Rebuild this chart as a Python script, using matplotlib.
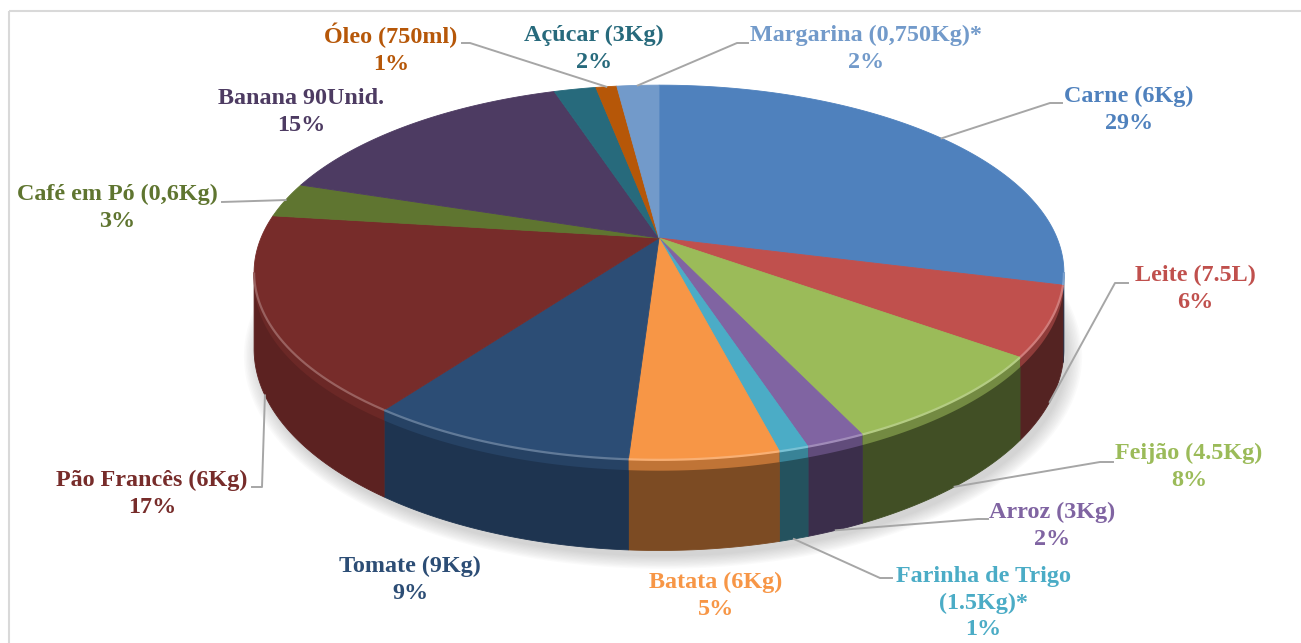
import numpy as np
import matplotlib
matplotlib.use("Agg")
import matplotlib.pyplot as plt
from matplotlib.patches import Polygon, Rectangle
from matplotlib.colors import to_rgb

# ---------------- data ----------------
categories = ["Carne (6Kg)", "Leite (7.5L)", "Feijão (4.5Kg)", "Arroz (3Kg)",
              "Farinha de Trigo\n(1.5Kg)*", "Batata (6Kg)", "Tomate (9Kg)",
              "Pão Francês (6Kg)", "Café em Pó (0,6Kg)", "Banana 90Unid.",
              "Açúcar (3Kg)", "Óleo (750ml)", "Margarina (0,750Kg)*"]
shares = [29, 6, 8, 2, 1, 5, 9, 17, 3, 15, 2, 1, 2]
colors = ["#4F81BD", "#C0504D", "#9BBB59", "#8064A2", "#4BACC6", "#F79646",
          "#2C4D75", "#772C2A", "#5F7530", "#4D3B62", "#276A7C", "#B65708",
          "#729ACA"]

# ---------------- layout (label centres, leader elbows) ----------------
label_pos = [(1129, 110), (1195, 289), (1189, 467), (1052, 526), (983, 603),
             (716, 596), (410, 580), (152, 494), (117, 208), (301, 112),
             (594, 49), (391, 49), (866, 49)]
# (depth fraction of anchor on the slice, elbow points) or None
leaders = [(0.0, [(1050, 103), (1062, 103)]),
           (1.0, [(1115, 283), (1128, 283)]),
           (1.0, [(1100, 462), (1113, 462)]),
           (1.0, [(978, 519), (988, 519)]),
           (1.0, [(880, 578), (892, 578)]),
           None, None,
           (1.0, [(262, 487), (252, 487)]),
           (0.0, [(222, 202)]),
           None, None,
           (0.0, [(470, 43), (462, 43)]),
           (0.0, [(737, 43), (748, 43)])]

W, Hpx = 1301, 643
fig = plt.figure(figsize=(W / 100, Hpx / 100), dpi=100)
ax = fig.add_axes([0, 0, 1, 1])
ax.set_xlim(0, W)
ax.set_ylim(Hpx, 0)
ax.axis("off")

# chart border
ax.add_patch(Rectangle((9, 11), 1300, 640, fill=False, edgecolor="#D9D9D9", lw=1.5))

# ---------------- 3-D pie geometry ----------------
CX, CY = 659, 238
A, B, E, H = 398, 181, 0.184, 74


def proj(t_deg, depth=0.0):
    t = np.radians(t_deg)
    u, w = np.cos(t), np.sin(t)
    p = 1.0 / (1.0 + E * w)
    return CX + A * u * p, CY - B * w * p + H * depth * p


def arc(t0, t1, depth=0.0):
    n = max(3, int(abs(t1 - t0) * 3))
    ts = np.linspace(t0, t1, n)
    xs, ys = proj(ts, depth)
    return np.column_stack([xs, ys])


def mix(c1, c2, f):
    c1, c2 = np.array(to_rgb(c1)), np.array(to_rgb(c2))
    return tuple(c1 * (1 - f) + c2 * f)


total = float(sum(shares))
cum = np.concatenate([[0], np.cumsum(shares)])
starts = 90 - 360 * cum[:-1] / total
ends = 90 - 360 * cum[1:] / total

# soft shadow
full = arc(-180, 180, 1.0)
cxs, cys = full[:, 0].mean(), full[:, 1].mean()
for s in np.linspace(0.0, 0.035, 10):
    pts = np.column_stack([cxs + (full[:, 0] - cxs) * (1 + s) + 4,
                           cys + (full[:, 1] - cys) * (1 + s * 1.6) + 6])
    ax.add_patch(Polygon(pts, closed=True, facecolor="#808080", alpha=0.035,
                         edgecolor="none", zorder=1))

# side walls (front facing part only)
t_sil = np.degrees(np.arcsin(E))
vis_lo, vis_hi = -180 + t_sil, -t_sil
for i, (s0, s1) in enumerate(zip(starts, ends)):
    lo, hi = max(s1, vis_lo), min(s0, vis_hi)
    if lo >= hi:
        continue
    mid = -(s0 + s1) / 2.0
    f = np.interp(mid, [10, 50, 92, 112, 170], [0.45, 0.42, 0.52, 0.70, 0.80])
    wall = tuple(np.array(to_rgb(colors[i])) * f)
    top = arc(hi, lo, 0.0)
    bot = arc(lo, hi, 1.0)
    ax.add_patch(Polygon(np.vstack([top, bot]), closed=True, facecolor=wall,
                         edgecolor=wall, lw=0.6, zorder=2))
    # bevel band under the rim
    bev = arc(lo, hi, 0.12)
    ax.add_patch(Polygon(np.vstack([top, bev]), closed=True,
                         facecolor=mix(colors[i], wall, 0.45), edgecolor="none",
                         zorder=3))

# top faces
for i, (s0, s1) in enumerate(zip(starts, ends)):
    pts = np.vstack([[CX, CY], arc(s0, s1, 0.0)])
    ax.add_patch(Polygon(pts, closed=True, facecolor=colors[i],
                         edgecolor=colors[i], lw=0.6, zorder=4))
    lo, hi = max(s1, vis_lo), min(s0, vis_hi)
    if lo < hi:
        rim = arc(hi, lo, 0.0)
        ax.plot(rim[:, 0], rim[:, 1], color=mix(colors[i], "white", 0.25),
                lw=1.6, zorder=5, solid_capstyle="butt")

# labels and leader lines
for i, cat in enumerate(categories):
    x, y = label_pos[i]
    ax.text(x, y, f"{cat}\n{shares[i]:.0f}%", ha="center", va="center",
            multialignment="center", color=colors[i], fontsize=17.4,
            fontweight="bold", family="Liberation Serif", linespacing=1.36,
            zorder=6)
    if leaders[i] is not None:
        depth, elbow = leaders[i]
        mid = (starts[i] + ends[i]) / 2.0
        ax0, ay0 = proj(mid, depth)
        xs = [ax0] + [p[0] for p in elbow]
        ys = [ay0] + [p[1] for p in elbow]
        ax.plot(xs, ys, color="#A6A6A6", lw=1.4, zorder=6)

fig.savefig("out.png", dpi=100)
